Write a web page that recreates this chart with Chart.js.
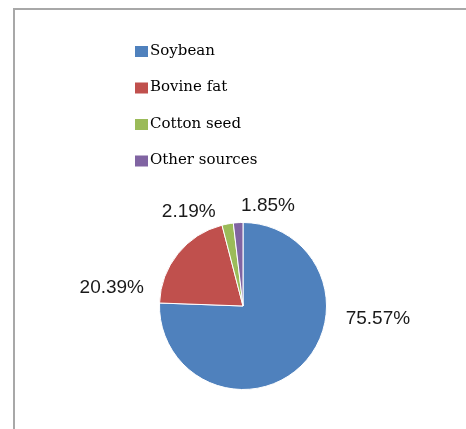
<!DOCTYPE html>
<html>
<head>
<meta charset="utf-8">
<script src="https://cdn.jsdelivr.net/npm/chart.js@4/dist/chart.umd.min.js"></script>
<style>
    html, body { margin: 0; padding: 0; background: #fff; overflow: hidden; }
    #frame {
        position: absolute; left: 13px; top: 8px; width: 600px; height: 600px;
        border-left: 2px solid #a8a8a8; border-top: 2px solid #a8a8a8;
    }
    #wrap { position: absolute; left: 0; top: 0; }
</style>
</head>
<body>
<div id="frame"></div>
<div id="wrap"><canvas id="pie" width="466" height="429"></canvas></div>
<script>
const sources = ['Soybean', 'Bovine fat', 'Cotton seed', 'Other sources'];
const shares = [75.57, 20.39, 2.19, 1.85];
const colours = ['#4f81bd', '#c0504d', '#9bbb59', '#8064a2'];

// where each percentage sits around the pie (degrees, extra distance past the rim)
const label_angle = [5.5, 188, 240, 284];
const label_gap = [52, 49, 25, 20];

document.addEventListener('DOMContentLoaded', function () {
    const legend_box = {
        id: 'legend_box',
        afterDraw(chart) {
            const ctx = chart.ctx;
            const ds = chart.data.datasets[0];
            ctx.save();
            ctx.font = '15px "DejaVu Serif"';
            ctx.textBaseline = 'middle';
            ctx.textAlign = 'left';
            chart.data.labels.forEach((lab, i) => {
                const y = 51 + i * 36.5;
                ctx.fillStyle = ds.backgroundColor[i];
                ctx.fillRect(135, y - 5, 13, 11);
                ctx.fillStyle = '#000';
                ctx.fillText(lab, 150, y);
            });
            ctx.restore();
        }
    };

    const pct_labels = {
        id: 'pct_labels',
        afterDatasetsDraw(chart) {
            const ctx = chart.ctx;
            const meta = chart.getDatasetMeta(0);
            const ds = chart.data.datasets[0];
            ctx.save();
            ctx.font = '19px "Liberation Sans"';
            ctx.fillStyle = '#1a1a1a';
            ctx.textAlign = 'center';
            ctx.textBaseline = 'middle';
            meta.data.forEach((arc, i) => {
                const r = arc.outerRadius + label_gap[i];
                const a = label_angle[i] * Math.PI / 180;
                const x = arc.x + Math.cos(a) * r;
                const y = arc.y + Math.sin(a) * r;
                ctx.fillText(ds.data[i].toFixed(2) + '%', x, y);
            });
            ctx.restore();
        }
    };

    new Chart(document.getElementById('pie'), {
        type: 'pie',
        data: {
            labels: sources,
            datasets: [{
                data: shares,
                backgroundColor: colours,
                borderColor: '#ffffff',
                borderWidth: 1
            }]
        },
        options: {
            responsive: false,
            animation: false,
            layout: { padding: { left: 159, right: 139, top: 222, bottom: 39 } },
            plugins: {
                legend: { display: false },
                tooltip: { enabled: false }
            }
        },
        plugins: [legend_box, pct_labels]
    });
});
</script>
</body>
</html>
